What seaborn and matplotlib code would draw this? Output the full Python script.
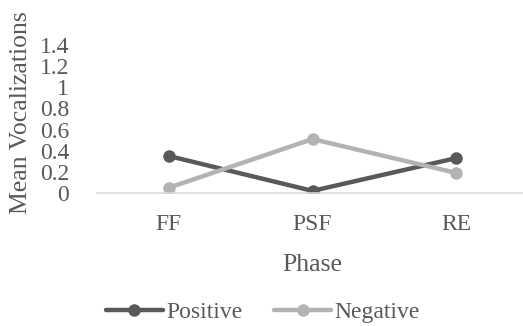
import matplotlib
matplotlib.use("Agg")
import matplotlib.pyplot as plt
import seaborn as sns
import pandas as pd
from matplotlib.lines import Line2D

phases = ["FF", "PSF", "RE"]
positive = [0.35, 0.02, 0.33]
negative = [0.05, 0.51, 0.19]
series_names = ["Positive", "Negative"]
y_ticks = [0, 0.2, 0.4, 0.6, 0.8, 1, 1.2, 1.4]
y_tick_labels = ["0", "0.2", "0.4", "0.6", "0.8", "1", "1.2", "1.4"]

df = pd.DataFrame({
    "Phase": phases * 2,
    "Value": positive + negative,
    "Series": [series_names[0]] * 3 + [series_names[1]] * 3,
})

sns.set_theme(style="white")
plt.rcParams["font.family"] = ["Liberation Serif", "DejaVu Serif"]
text_color = "#595959"

fig = plt.figure(figsize=(5.23, 3.26), dpi=100)
ax = fig.add_axes([97 / 523, 133 / 326, 431 / 523, 148 / 326])

palette = {"Positive": "#595959", "Negative": "#b3b3b3"}
sns.lineplot(data=df, x="Phase", y="Value", hue="Series", palette=palette,
             marker="o", markersize=9, markeredgewidth=0, linewidth=3.2,
             sort=False, ax=ax, legend=False)

ax.set_xlim(-0.5, 2.5)
ax.set_ylim(0, 1.4)
ax.set_yticks(y_ticks)
ax.set_yticklabels(y_tick_labels)
ax.tick_params(axis="both", length=0, labelsize=17, colors=text_color)
ax.tick_params(axis="y", pad=20)
ax.tick_params(axis="x", pad=15)
for s in ["top", "right", "left"]:
    ax.spines[s].set_visible(False)
ax.spines["bottom"].set_color("#d9d9d9")
ax.spines["bottom"].set_linewidth(1.2)
ax.grid(False)

ax.set_xlabel("Phase", fontsize=18.5, color=text_color, labelpad=14)
ax.set_ylabel("")
fig.text(21 / 523, 1 - 113 / 326, "Mean Vocalizations", rotation=90,
         fontsize=18.5, color=text_color, ha="center", va="center")

handles = [Line2D([], [], color=palette[n], marker="o", markersize=9,
                  markeredgewidth=0, linewidth=3.2) for n in series_names]
fig.legend(handles, series_names, loc="center", bbox_to_anchor=(263 / 523, 1 - 312 / 326),
           ncol=2, frameon=False, fontsize=17, labelcolor=text_color,
           handlelength=2.4, handletextpad=0.15, columnspacing=1.35)

fig.savefig("out.png", dpi=100)
